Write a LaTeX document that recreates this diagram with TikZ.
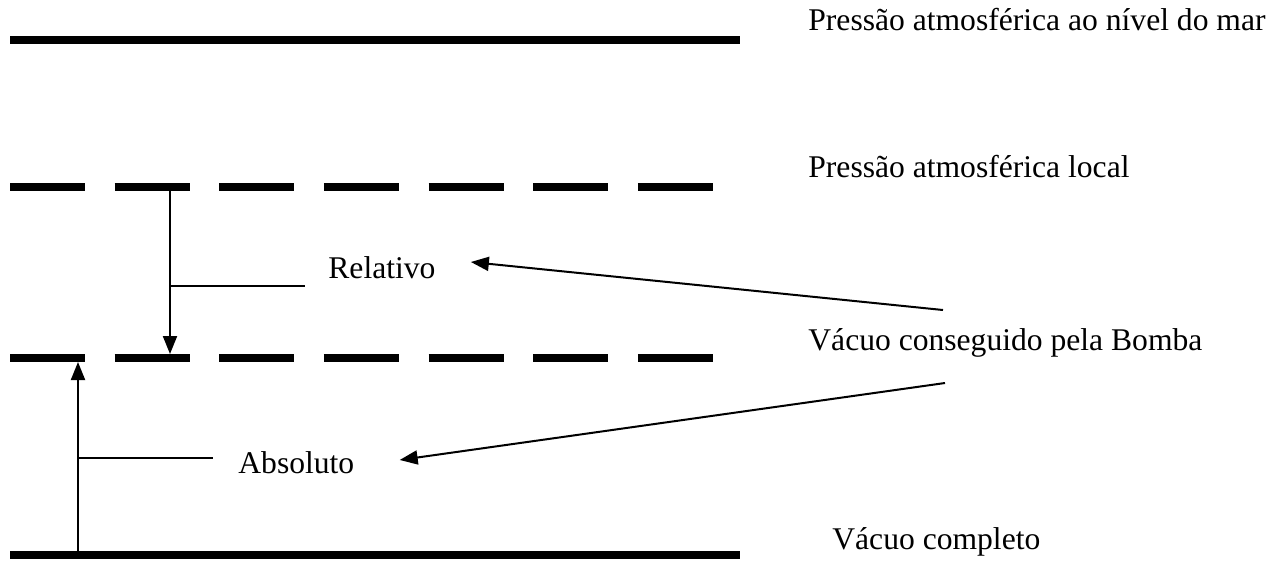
\documentclass[tikz,border=0pt]{standalone}
\usepackage{fontspec}
\setmainfont{Liberation Serif}
\usetikzlibrary{arrows.meta,calc}

\begin{document}
\begin{tikzpicture}[x=0.5pt,y=-0.5pt,
  nivel/.style={line width=4pt},
  tracejado/.style={line width=4pt,dash pattern=on 37.5pt off 14.83pt},
  seta/.style={line width=1pt,-{Triangle[length=9pt,width=7pt]}},
  traco/.style={line width=0.7pt},
  rotulo/.style={anchor=base west,inner sep=0pt,font=\fontsize{15.8}{19}\selectfont}]
\useasboundingbox (0,0) rectangle (1287,564);

% niveis de pressao
\coordinate (mar0) at (10,40);   \coordinate (mar1) at (740,40);
\coordinate (loc0) at (10,187);  \coordinate (loc1) at (713,187);
\coordinate (bom0) at (10,358);  \coordinate (bom1) at (713,358);
\coordinate (vac0) at (10,555);  \coordinate (vac1) at (740,555);
\draw[nivel] (mar0) -- (mar1);
\draw[tracejado] (loc0) -- (loc1);
\draw[tracejado] (bom0) -- (bom1);
\draw[nivel] (vac0) -- (vac1);

\node[rotulo] (mar) at (808,30) {Pressão atmosférica ao nível do mar};
\node[rotulo] (local) at (808,177) {Pressão atmosférica local};
\node[rotulo] (bomba) at (808,350) {Vácuo conseguido pela Bomba};
\node[rotulo] (completo) at (832,549) {Vácuo completo};

\node[rotulo] (relativo) at (328,278) {Relativo};
\node[rotulo] (absoluto) at (238,473) {Absoluto};

% vacuo relativo
\coordinate (r0) at (170,191);
\coordinate (r1) at (170,354);
\coordinate (rt) at (170,286);
\draw[seta] (r0) -- (r1);
\draw[traco] (rt) -- (rt -| 305,0);

% vacuo absoluto
\coordinate (a0) at (78,551);
\coordinate (a1) at (78,362);
\coordinate (at) at (78,458);
\draw[seta] (a0) -- (a1);
\draw[traco] (at) -- (at -| 213,0);

% setas da bomba
\coordinate (b1) at (943,310);
\coordinate (b2) at (945,383);
\draw[seta] (b1) -- ($(relativo.base east)+(35,-16)$);
\draw[seta] (b2) -- ($(absoluto.base east)+(45,-13)$);
\end{tikzpicture}
\end{document}
